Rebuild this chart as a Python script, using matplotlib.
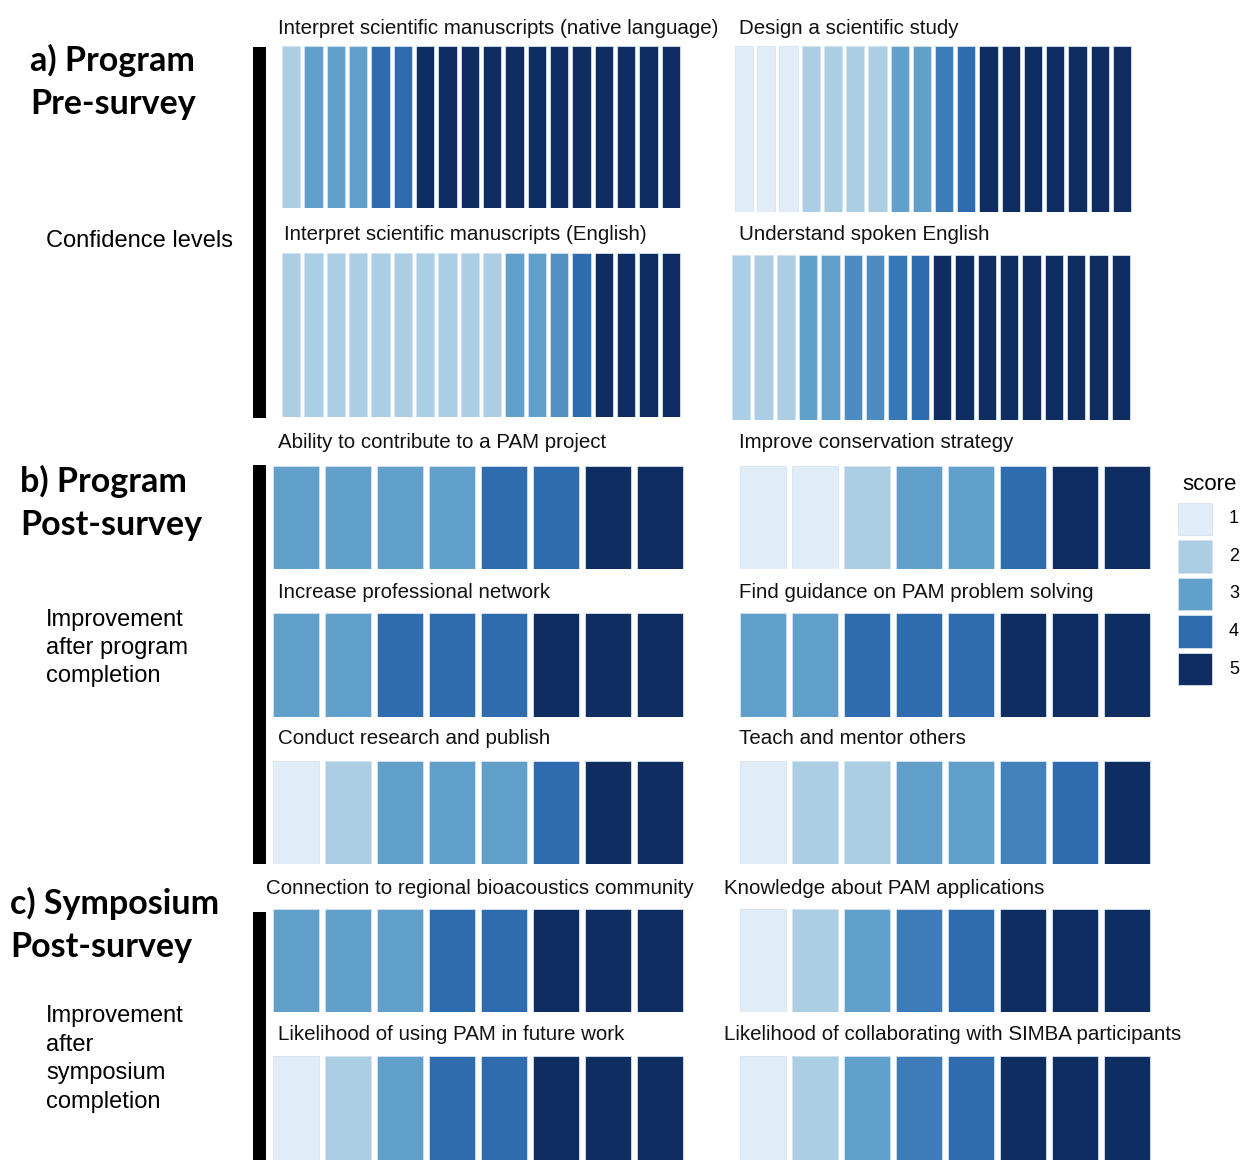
import numpy as np
import matplotlib
matplotlib.use("Agg")
import matplotlib.pyplot as plt
from matplotlib.colors import LinearSegmentedColormap, Normalize

# ---------------- data ----------------
score_levels = [1, 2, 3, 4, 5]
score_colors = ["#e0ecf8", "#abcee4", "#61a0ca", "#2e6db0", "#0f2d61"]

pre_native = [2, 3, 3, 3, 4, 4, 5, 5, 5, 5, 5, 5, 5, 5, 5, 5, 5, 5]
pre_design = [1, 1, 1, 2, 2, 2, 2, 3, 3, 3.7, 4, 5, 5, 5, 5, 5, 5, 5]
pre_english_ms = [2, 2, 2, 2, 2, 2, 2, 2, 2, 2, 3, 3, 3.3, 4, 5, 5, 5, 5]
pre_spoken = [2, 2, 2, 3, 3, 3.4, 3.4, 3.8, 4, 5, 5, 5, 5, 5, 5, 5, 5, 5]

post_contribute = [3, 3, 3, 3, 4, 4, 5, 5]
post_conservation = [1, 1, 2, 3, 3, 4, 5, 5]
post_network = [3, 3, 4, 4, 4, 5, 5, 5]
post_guidance = [3, 3, 4, 4, 4, 5, 5, 5]
post_research = [1, 2, 3, 3, 3, 4, 5, 5]
post_teach = [1, 2, 2, 3, 3, 3.6, 4, 5]

sym_connection = [3, 3, 3, 4, 4, 5, 5, 5]
sym_knowledge = [1, 2, 3, 3.7, 4, 5, 5, 5]
sym_using = [1, 2, 3, 4, 4, 5, 5, 5]
sym_collab = [1, 2, 3, 3.7, 4, 5, 5, 5]

titles = {
    "pre_native": "Interpret scientific manuscripts (native language)",
    "pre_design": "Design a scientific study",
    "pre_english_ms": "Interpret scientific manuscripts (English)",
    "pre_spoken": "Understand spoken English",
    "post_contribute": "Ability to contribute to a PAM project",
    "post_conservation": "Improve conservation strategy",
    "post_network": "Increase professional network",
    "post_guidance": "Find guidance on PAM problem solving",
    "post_research": "Conduct research and publish",
    "post_teach": "Teach and mentor others",
    "sym_connection": "Connection to regional bioacoustics community",
    "sym_knowledge": "Knowledge about PAM applications",
    "sym_using": "Likelihood of using PAM in future work",
    "sym_collab": "Likelihood of collaborating with SIMBA participants",
}

# ---------------- figure ----------------
W, H = 1260, 1160
fig = plt.figure(figsize=(W / 100, H / 100), dpi=100)
fig.patch.set_facecolor("white")

cmap = LinearSegmentedColormap.from_list("score", score_colors)
norm = Normalize(vmin=1, vmax=5)

SANS = ["Liberation Sans", "DejaVu Sans"]
HEAD = ["Lato", "DejaVu Sans"]
TITLE_FS = 14.8


def px_axes(x0, y0, x1, y1):
    return fig.add_axes([x0 / W, 1 - y1 / H, (x1 - x0) / W, (y1 - y0) / H])


def strip(vals, box, width, title, tx, ty):
    ax = px_axes(*box)
    x = np.arange(len(vals))
    ax.bar(x, np.ones(len(vals)), width=width, bottom=0,
           color=cmap(norm(np.array(vals, dtype=float))),
           edgecolor="#d5e2ef", linewidth=0.6)
    ax.set_xlim(-0.5, len(vals) - 0.5)
    ax.set_ylim(0, 1)
    ax.axis("off")
    fig.text(tx / W, 1 - ty / H, title, fontsize=TITLE_FS, family=SANS,
             ha="left", va="center", color="#111111")
    return ax


# a) pre-survey
strip(pre_native, (280, 46, 682, 208), 0.82, titles["pre_native"], 278, 29)
strip(pre_design, (733, 46, 1133, 212), 0.82, titles["pre_design"], 739, 28)
strip(pre_english_ms, (280, 253, 682, 417), 0.82, titles["pre_english_ms"], 284, 234)
strip(pre_spoken, (730, 255, 1132, 420), 0.82, titles["pre_spoken"], 739, 235)

# b) program post-survey
strip(post_contribute, (270, 466, 686, 569), 0.9, titles["post_contribute"], 278, 443)
strip(post_conservation, (737, 466, 1153, 569), 0.9, titles["post_conservation"], 739, 443)
strip(post_network, (270, 613, 686, 717), 0.9, titles["post_network"], 278, 593)
strip(post_guidance, (737, 613, 1153, 717), 0.9, titles["post_guidance"], 739, 592)
strip(post_research, (270, 761, 686, 864), 0.9, titles["post_research"], 278, 739)
strip(post_teach, (737, 761, 1153, 864), 0.9, titles["post_teach"], 739, 739)

# c) symposium post-survey
strip(sym_connection, (270, 909, 686, 1012), 0.9, titles["sym_connection"], 266, 888)
strip(sym_knowledge, (737, 909, 1153, 1012), 0.9, titles["sym_knowledge"], 724, 888)
strip(sym_using, (270, 1056, 686, 1162), 0.9, titles["sym_using"], 278, 1034)
strip(sym_collab, (737, 1056, 1153, 1162), 0.9, titles["sym_collab"], 724, 1035)

# black section bars
for (y0, y1) in [(47, 418), (465, 864), (912, 1160)]:
    fig.add_artist(plt.Rectangle((253 / W, 1 - y1 / H), 13 / W, (y1 - y0) / H,
                                 transform=fig.transFigure, color="black", lw=0))

# section headings
HEAD_FS = 24.5
fig.text(30 / W, 1 - 82 / H, "a) Program\nPre-survey", fontsize=HEAD_FS, fontweight="bold",
         family=HEAD, ha="left", va="center", linespacing=1.42)
fig.text(46 / W, 1 - 241 / H, "Confidence levels", fontsize=17, family=SANS,
         ha="left", va="center")
fig.text(20 / W, 1 - 503 / H, "b) Program\nPost-survey", fontsize=HEAD_FS, fontweight="bold",
         family=HEAD, ha="left", va="center", linespacing=1.42)
fig.text(46 / W, 1 - 648 / H, "Improvement\nafter program\ncompletion", fontsize=17,
         family=SANS, ha="left", va="center", linespacing=1.36)
fig.text(10 / W, 1 - 925 / H, "c) Symposium\nPost-survey", fontsize=HEAD_FS, fontweight="bold",
         family=HEAD, ha="left", va="center", linespacing=1.42)
fig.text(46 / W, 1 - 1059 / H, "Improvement\nafter\nsymposium\ncompletion", fontsize=17,
         family=SANS, ha="left", va="center", linespacing=1.4)

# legend
lax = px_axes(1170, 500, 1250, 688)
lax.barh(np.arange(len(score_levels)), np.ones(len(score_levels)) * 0.42, left=0.1,
         height=0.86, color=cmap(norm(np.array(score_levels, dtype=float))),
         edgecolor="#d5e2ef", linewidth=0.6)
for i, lv in enumerate(score_levels):
    lax.text(0.8, i, str(lv), fontsize=13, family=SANS, ha="center", va="center")
lax.set_ylim(len(score_levels) - 0.5, -0.5)
lax.set_xlim(0, 1)
lax.axis("off")
fig.text(1210 / W, 1 - 485 / H, "score", fontsize=16, family=SANS, ha="center", va="center")

fig.savefig("out.png", dpi=100, facecolor="white")
